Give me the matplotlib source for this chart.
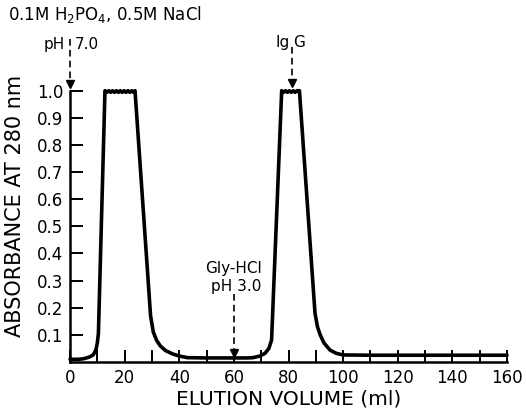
import matplotlib
matplotlib.use("Agg")
import matplotlib.pyplot as plt

# Elution profile (ml, absorbance at 280 nm)
volume = [0, 3, 5, 7, 8.5, 9.5, 10.0, 10.4, 12.8, 13.5, 14.2, 14.9, 15.6, 16.3, 17.0,
          17.7, 18.4, 19.1, 19.8, 20.5, 21.2, 21.9, 22.6, 23.3, 23.8,
          29.5, 30.5, 31.7, 33, 35, 37.5, 40, 43, 50, 60, 65, 67, 69.5, 71.4,
          72.8, 73.8, 77.5, 78.2, 78.9, 79.6, 80.3, 81.0, 81.7, 82.4, 83.1, 84.0,
          89.7, 90.6, 91.6, 93, 95.2, 97.5, 100, 110, 130, 160]
absorbance = [0.01, 0.01, 0.012, 0.018, 0.026, 0.045, 0.07, 0.106, 1.0, 0.994, 1.0, 0.994, 1.0,
              0.994, 1.0, 0.994, 1.0, 0.994, 1.0, 0.994, 1.0, 0.994, 1.0, 0.994, 1.0,
              0.17, 0.11, 0.08, 0.06, 0.042, 0.03, 0.022, 0.016, 0.015, 0.015, 0.015, 0.016,
              0.022, 0.032, 0.05, 0.081, 1.0, 0.994, 1.0, 0.994, 1.0, 0.994, 1.0, 0.994, 1.0, 1.0,
              0.18, 0.13, 0.1, 0.07, 0.044, 0.032, 0.026, 0.025, 0.025, 0.025]

x_ticks = list(range(0, 161, 10))
x_labels = [str(v) if v % 20 == 0 else "" for v in x_ticks]
y_ticks = [0.1, 0.2, 0.3, 0.4, 0.5, 0.6, 0.7, 0.8, 0.9, 1.0]
y_labels = ["0.1", "0.2", "0.3", "0.4", "0.5", "0.6", "0.7", "0.8", "0.9", "1.0"]

# Annotation positions (ml)
arrow_buffer = 0.0
arrow_igg = 81.2
arrow_gly = 60.2

plt.rcParams['font.family'] = ['DejaVu Sans']

fig = plt.figure(figsize=(5.26, 4.09), dpi=100)
ax = fig.add_axes([0.1331, 0.1149, 0.8308, 0.6633])

ax.plot(volume, absorbance, color='black', lw=2.6, clip_on=False,
        solid_joinstyle='round', solid_capstyle='round', zorder=3)

ax.set_xlim(0, 160)
ax.set_ylim(0, 1.0)
for s in ['top', 'right']:
    ax.spines[s].set_visible(False)
for s in ['left', 'bottom']:
    ax.spines[s].set_linewidth(1.8)
ax.set_xticks(x_ticks)
ax.set_xticklabels(x_labels)
ax.set_yticks(y_ticks)
ax.set_yticklabels(y_labels)
ax.tick_params(direction='in', length=9, width=1.4, labelsize=12, pad=5)
ax.tick_params(axis='x', pad=5)

ax.set_xlabel("ELUTION VOLUME (ml)", fontsize=14.5, labelpad=2)
ax.set_ylabel("ABSORBANCE AT 280 nm", fontsize=15)
ax.yaxis.set_label_coords(-0.103, 0.575)

dash = (0, (4, 2.5))
kw = dict(color='black', lw=1.2, linestyle=dash, clip_on=False)

# pH 7.0 arrow
ax.plot([arrow_buffer, arrow_buffer], [1.19, 1.035], **kw)
ax.plot([arrow_buffer], [1.025], marker='v', ms=6, color='black', clip_on=False)
ax.text(-1.8, 1.17, "pH", ha='right', va='center', fontsize=11, clip_on=False)
ax.text(1.8, 1.17, "7.0", ha='left', va='center', fontsize=11, clip_on=False)
ax.text(-22.8, 1.282, "0.1M H$_2$PO$_4$, 0.5M NaCl", ha='left', va='center',
        fontsize=12, clip_on=False)

# IgG arrow
ax.plot([arrow_igg, arrow_igg], [1.16, 1.04], **kw)
ax.plot([arrow_igg], [1.03], marker='v', ms=6, color='black', clip_on=False)
ax.text(arrow_igg - 0.6, 1.176, "Ig", ha='right', va='center', fontsize=11, clip_on=False)
ax.text(arrow_igg + 0.6, 1.176, "G", ha='left', va='center', fontsize=11, clip_on=False)

# Gly-HCl arrow
ax.plot([arrow_gly, arrow_gly], [0.25, 0.045], **kw)
ax.plot([arrow_gly], [0.035], marker='v', ms=6, color='black', clip_on=False)
ax.text(arrow_gly - 0.5, 0.345, "Gly-HCl", ha='center', va='center', fontsize=11)
ax.text(arrow_gly + 0.8, 0.278, "pH 3.0", ha='center', va='center', fontsize=11)

fig.savefig("out.png", dpi=100)
